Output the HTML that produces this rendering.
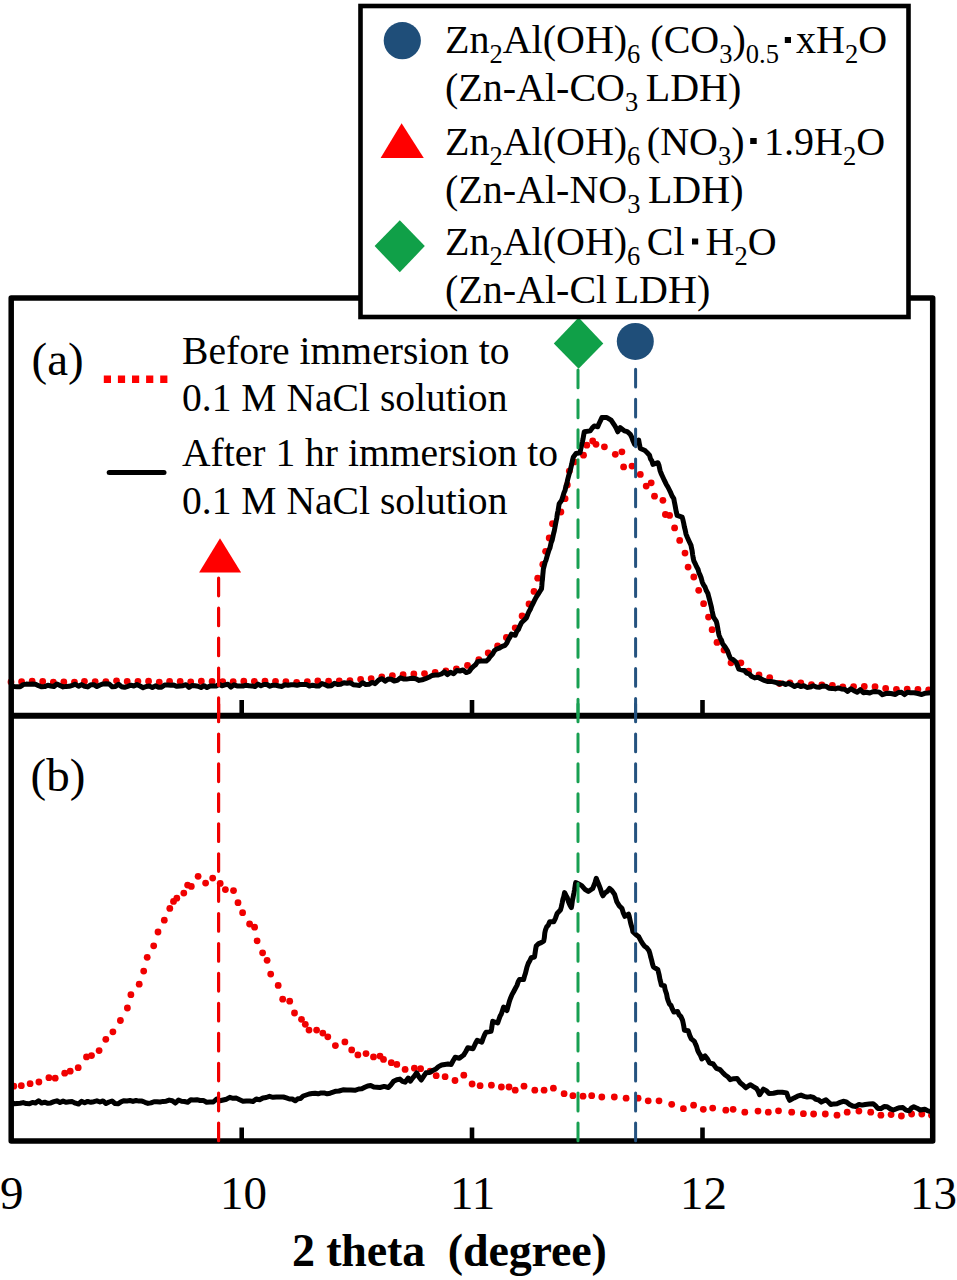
<!DOCTYPE html>
<html><head><meta charset="utf-8">
<style>
html,body{margin:0;padding:0;background:#fff;}
body{width:957px;height:1280px;position:relative;overflow:hidden;font-family:"Liberation Serif",serif;color:#000;}
svg{position:absolute;left:0;top:0;}
.t{position:absolute;white-space:nowrap;font-size:40px;line-height:40px;}
.p{position:absolute;white-space:nowrap;font-size:39.6px;line-height:40px;}
.t sub{font-size:26.5px;vertical-align:0;position:relative;top:10px;line-height:0;}
.sq{display:inline-block;width:6px;height:6px;background:#000;vertical-align:0;position:relative;top:-8px;margin:0 6px 0 10px;}
.ax{position:absolute;font-size:47px;line-height:46px;white-space:nowrap;}
.xt{position:absolute;font-size:46px;line-height:46px;white-space:nowrap;font-weight:bold;letter-spacing:-0.15px;}
</style></head><body>
<svg width="957" height="1280" viewBox="0 0 957 1280">
<path d="M11.0,682.0 L14.1,681.7 L17.1,681.4 L20.2,682.2 L23.3,681.2 L26.3,682.0 L29.4,681.7 L32.5,681.2 L35.6,681.9 L38.6,681.1 L41.7,681.7 L44.8,681.1 L47.8,681.1 L50.9,681.7 L54.0,682.3 L57.0,681.1 L60.1,681.3 L63.2,681.9 L66.2,682.4 L69.3,681.8 L72.4,681.5 L75.4,682.4 L78.5,680.9 L81.6,682.2 L84.7,681.2 L87.7,681.0 L90.8,680.9 L93.9,681.2 L96.9,682.0 L100.0,681.5 L103.1,681.6 L106.2,681.7 L109.2,681.3 L112.3,681.6 L115.4,680.8 L118.5,680.8 L121.5,681.0 L124.6,681.8 L127.7,681.4 L130.8,681.2 L133.8,681.6 L136.9,681.4 L140.0,681.2 L143.1,682.0 L146.2,681.8 L149.2,681.1 L152.3,681.6 L155.4,681.5 L158.5,682.1 L161.5,681.9 L164.6,681.2 L167.7,682.3 L170.8,680.9 L173.8,681.4 L176.9,681.9 L180.0,681.5 L183.0,681.5 L186.0,680.8 L189.0,681.8 L192.0,681.9 L195.0,681.6 L198.0,682.1 L201.0,681.2 L204.0,681.8 L207.0,681.7 L210.0,681.6 L213.0,681.4 L216.0,682.0 L219.0,682.2 L222.0,681.5 L225.0,681.8 L228.0,680.8 L231.0,681.8 L234.0,681.7 L237.0,682.3 L240.0,681.5 L243.0,681.2 L246.0,681.3 L249.0,681.8 L252.0,680.8 L255.0,681.5 L258.0,681.0 L261.0,681.0 L264.0,680.9 L267.0,682.0 L270.0,681.0 L273.0,681.2 L276.0,681.4 L279.0,682.2 L282.0,681.0 L285.0,681.6 L288.0,681.7 L291.0,682.3 L294.0,682.2 L297.0,682.3 L300.0,681.7 L303.1,681.5 L306.2,681.4 L309.2,682.2 L312.3,682.2 L315.4,680.9 L318.5,680.9 L321.5,680.9 L324.6,680.8 L327.7,681.2 L330.8,681.3 L333.8,680.7 L336.9,680.3 L340.0,681.0 L343.0,680.5 L346.0,680.6 L349.0,680.9 L352.0,680.2 L355.0,679.6 L358.0,679.5 L361.0,679.3 L364.0,678.1 L367.0,678.5 L370.1,678.7 L373.3,678.5 L376.4,678.1 L379.6,677.2 L382.7,676.9 L385.9,676.2 L389.0,676.5 L392.3,675.7 L395.7,675.4 L399.0,675.3 L402.1,674.6 L405.3,674.7 L408.4,674.1 L411.6,673.9 L414.7,674.0 L417.9,673.7 L421.0,674.2 L424.0,673.5 L427.0,673.8 L430.0,673.3 L433.0,672.9 L436.2,672.2 L439.5,671.8 L442.8,671.4 L446.0,671.0 L449.7,670.5 L453.3,669.8 L457.0,668.6" fill="none" stroke="#f00000" stroke-width="6.8" stroke-linecap="round" stroke-dasharray="0 10.8"/>
<path d="M790.0,682.8 L793.8,682.8 L797.6,682.9 L800.9,683.0 L804.2,683.4 L807.4,684.0 L810.7,684.6 L813.9,685.2 L817.0,684.2 L820.2,684.1 L823.3,685.7 L826.5,685.1 L829.6,685.1 L832.9,685.4 L836.2,684.8 L839.5,685.9 L842.8,686.8 L846.0,686.9 L849.3,686.8 L852.6,686.4 L855.9,687.0 L859.7,686.4 L863.4,686.6 L867.2,686.1 L871.0,686.6 L874.7,686.6 L878.5,687.0 L881.7,687.8 L885.0,688.4 L888.2,688.5 L891.4,688.8 L894.6,689.2 L897.9,689.4 L901.1,689.3 L904.1,689.4 L907.2,689.2 L910.2,688.7 L913.3,688.8 L916.4,689.3 L919.4,689.3 L922.5,690.0 L925.5,689.8 L928.8,689.9 L932.0,690.0" fill="none" stroke="#f00000" stroke-width="6.8" stroke-linecap="round" stroke-dasharray="0 10.8"/>
<g fill="#f00000"><circle cx="467.5" cy="665.4" r="3.4"/><circle cx="478.8" cy="659.7" r="3.4"/><circle cx="488.2" cy="653.0" r="3.4"/><circle cx="497.6" cy="646.0" r="3.4"/><circle cx="506.4" cy="637.5" r="3.4"/><circle cx="515.2" cy="627.8" r="3.4"/><circle cx="522.1" cy="616.0" r="3.4"/><circle cx="529.0" cy="604.0" r="3.4"/><circle cx="534.0" cy="591.4" r="3.4"/><circle cx="537.7" cy="578.2" r="3.4"/><circle cx="542.8" cy="564.5" r="3.4"/><circle cx="545.6" cy="551.3" r="3.4"/><circle cx="549.2" cy="538.0" r="3.4"/><circle cx="552.5" cy="523.7" r="3.4"/><circle cx="560.9" cy="512.0" r="3.4"/><circle cx="565.1" cy="498.7" r="3.4"/><circle cx="567.3" cy="485.0" r="3.4"/><circle cx="569.3" cy="471.1" r="3.4"/><circle cx="574.3" cy="461.9" r="3.4"/><circle cx="583.5" cy="455.2" r="3.4"/><circle cx="586.8" cy="445.2" r="3.4"/><circle cx="592.7" cy="441.0" r="3.4"/><circle cx="596.0" cy="444.3" r="3.4"/><circle cx="604.4" cy="446.8" r="3.4"/><circle cx="615.3" cy="454.3" r="3.4"/><circle cx="621.9" cy="451.8" r="3.4"/><circle cx="623.6" cy="466.9" r="3.4"/><circle cx="632.0" cy="466.1" r="3.4"/><circle cx="640.3" cy="474.4" r="3.4"/><circle cx="646.2" cy="486.1" r="3.4"/><circle cx="651.2" cy="482.8" r="3.4"/><circle cx="654.5" cy="496.2" r="3.4"/><circle cx="662.9" cy="500.3" r="3.4"/><circle cx="665.4" cy="514.5" r="3.4"/><circle cx="669.6" cy="515.4" r="3.4"/><circle cx="674.6" cy="527.9" r="3.4"/><circle cx="679.7" cy="540.4" r="3.4"/><circle cx="685.0" cy="553.1" r="3.4"/><circle cx="688.1" cy="567.1" r="3.4"/><circle cx="693.8" cy="577.0" r="3.4"/><circle cx="698.7" cy="590.3" r="3.4"/><circle cx="703.6" cy="603.7" r="3.4"/><circle cx="708.5" cy="617.1" r="3.4"/><circle cx="712.1" cy="629.7" r="3.4"/><circle cx="717.0" cy="642.4" r="3.4"/><circle cx="724.0" cy="650.1" r="3.4"/><circle cx="731.0" cy="662.8" r="3.4"/><circle cx="740.9" cy="662.8" r="3.4"/><circle cx="748.6" cy="671.2" r="3.4"/><circle cx="759.0" cy="675.0" r="3.4"/><circle cx="769.7" cy="677.6" r="3.4"/><circle cx="779.6" cy="683.5" r="3.4"/></g>
<path d="M11.0,685.0 L14.1,686.6 L17.1,686.8 L20.2,686.7 L23.2,684.6 L26.3,684.1 L29.4,684.2 L32.4,684.1 L35.5,684.2 L38.6,685.7 L41.6,686.8 L44.7,686.6 L47.8,685.3 L50.8,686.0 L53.9,686.5 L56.9,684.0 L60.0,685.5 L63.1,686.9 L66.2,686.4 L69.2,686.3 L72.3,685.3 L75.4,684.2 L78.5,686.3 L81.5,684.6 L84.6,686.3 L87.7,686.9 L90.8,684.7 L93.8,684.7 L96.9,686.6 L100.0,685.0 L103.1,683.9 L106.2,683.8 L109.2,684.0 L112.3,686.8 L115.4,686.5 L118.5,684.2 L121.5,686.7 L124.6,687.3 L127.7,686.3 L130.8,685.2 L133.8,686.0 L136.9,684.6 L140.0,686.0 L143.1,687.7 L146.2,686.5 L149.2,686.1 L152.3,687.6 L155.4,685.8 L158.5,687.3 L161.5,687.2 L164.6,685.0 L167.7,685.1 L170.8,685.3 L173.8,685.1 L176.9,686.3 L180.0,686.0 L183.0,685.7 L186.0,684.7 L189.0,687.5 L192.0,685.5 L195.0,685.8 L198.0,686.3 L201.0,687.5 L204.0,685.7 L207.0,687.5 L210.0,686.0 L213.0,686.1 L216.0,686.1 L219.0,684.3 L222.0,685.8 L225.0,684.9 L228.0,684.2 L231.0,687.1 L234.0,684.8 L237.0,685.9 L240.0,686.0 L243.0,686.1 L246.0,685.2 L249.0,685.8 L252.0,685.9 L255.0,686.6 L258.0,684.1 L261.0,685.7 L264.0,684.5 L267.0,684.5 L270.0,686.2 L273.0,685.2 L276.0,685.3 L279.0,686.0 L282.0,686.4 L285.0,684.7 L288.0,685.2 L291.0,684.7 L294.0,684.7 L297.0,685.3 L300.0,684.5 L303.1,684.6 L306.3,684.4 L309.4,686.1 L312.5,685.2 L315.7,685.9 L318.8,686.1 L321.9,683.6 L325.1,684.7 L328.2,686.1 L331.3,685.7 L334.5,683.2 L337.6,684.5 L340.7,684.2 L343.9,682.8 L347.0,683.3 L350.1,682.7 L353.3,684.7 L356.4,685.1 L359.5,685.4 L362.7,682.7 L365.8,684.6 L368.9,684.3 L372.1,682.4 L375.2,683.6 L379.0,679.8 L382.1,678.7 L385.1,681.2 L388.1,679.1 L391.2,679.3 L394.2,681.0 L397.3,680.3 L400.3,677.8 L403.4,678.9 L406.5,679.1 L409.7,678.6 L412.8,678.3 L415.9,678.8 L419.1,680.4 L422.2,679.8 L425.5,678.7 L428.8,677.3 L432.1,675.4 L435.4,675.1 L438.4,675.0 L441.4,674.0 L444.5,671.9 L447.5,674.6 L450.5,672.3 L453.6,673.8 L456.8,670.6 L459.9,671.0 L463.0,670.0 L466.2,672.6 L469.3,671.4 L471.4,668.3 L473.5,666.4 L475.5,664.8 L477.6,661.6 L482.0,660.9 L486.3,661.0 L488.3,659.4 L490.3,656.4 L492.4,654.2 L494.4,650.7 L496.4,649.1 L499.3,648.2 L502.2,646.4 L505.1,645.3 L506.7,643.3 L508.2,639.9 L509.8,637.4 L511.4,634.0 L515.2,635.3 L516.8,631.4 L518.3,629.7 L519.9,625.8 L521.4,622.8 L524.0,620.3 L526.5,617.7 L527.7,614.5 L529.0,611.6 L530.2,609.5 L531.5,606.3 L532.7,604.0 L534.5,600.4 L536.2,597.2 L538.0,594.4 L539.7,591.6 L541.5,588.9 L541.8,586.0 L542.1,581.8 L542.5,578.9 L542.8,574.9 L543.1,571.9 L543.4,568.8 L544.3,565.4 L545.2,561.9 L546.0,560.2 L546.9,556.9 L547.8,553.8 L548.9,550.3 L550.0,547.7 L551.1,542.7 L552.2,540.0 L552.9,536.7 L553.6,533.5 L554.3,530.9 L555.0,527.1 L555.6,523.8 L556.2,520.8 L556.8,517.9 L557.4,513.4 L558.0,511.0 L558.6,507.4 L559.2,503.7 L561.7,500.3 L562.8,496.7 L564.0,492.8 L565.1,490.3 L565.9,486.2 L566.8,484.1 L567.6,479.8 L568.5,476.3 L569.3,473.6 L570.1,470.9 L570.9,467.6 L571.8,463.9 L572.6,459.8 L573.4,456.9 L576.0,453.5 L580.1,452.7 L580.7,449.1 L581.3,446.6 L581.9,443.3 L582.5,441.6 L583.1,438.6 L583.7,434.9 L584.3,431.8 L590.2,430.9 L592.2,428.1 L594.3,425.9 L597.7,426.8 L599.1,423.5 L600.5,420.6 L601.9,417.6 L606.9,417.6 L611.1,420.1 L614.4,425.1 L616.1,428.0 L617.8,431.8 L620.3,427.6 L624.4,430.9 L627.3,431.7 L630.3,434.3 L631.7,437.2 L633.1,441.1 L634.5,444.3 L638.7,440.1 L639.5,444.6 L640.3,448.5 L644.5,450.2 L647.0,452.5 L649.5,455.2 L650.6,459.1 L651.8,460.7 L652.9,464.4 L657.9,462.7 L659.0,465.5 L660.1,470.6 L661.2,473.6 L662.9,477.2 L664.5,480.7 L666.2,484.2 L667.9,487.0 L669.4,490.0 L670.8,492.9 L672.3,496.4 L673.8,498.7 L674.5,502.6 L675.1,505.5 L675.8,509.4 L676.4,512.4 L677.1,515.4 L682.1,517.1 L682.9,519.7 L683.7,523.2 L684.4,527.0 L685.2,530.0 L686.0,534.1 L687.2,537.0 L688.5,539.9 L689.8,542.7 L691.0,545.3 L691.6,548.4 L692.1,550.6 L692.7,555.1 L693.2,558.1 L693.8,560.8 L695.2,563.7 L696.6,566.7 L698.0,569.2 L699.0,572.8 L700.1,575.1 L701.2,578.0 L702.2,581.9 L703.6,585.1 L705.0,587.0 L706.4,590.8 L707.8,593.2 L708.7,596.7 L709.6,600.0 L710.5,603.7 L711.4,607.2 L712.1,611.0 L712.8,614.0 L713.5,617.1 L716.3,621.3 L717.0,624.2 L717.7,627.9 L718.4,632.3 L719.1,635.4 L720.3,638.3 L721.4,640.1 L722.6,643.8 L725.0,646.9 L727.5,650.8 L728.9,654.7 L730.3,657.9 L733.1,659.6 L736.0,662.1 L737.4,665.5 L738.8,669.1 L744.4,670.5 L746.7,673.1 L749.1,673.8 L751.4,676.2 L754.7,677.9 L758.0,677.2 L761.3,679.0 L764.3,680.4 L767.4,681.5 L770.5,681.4 L773.5,681.9 L776.5,682.6 L779.6,683.9 L782.6,683.1 L785.6,684.6 L788.6,683.2 L791.6,684.8 L794.6,686.5 L797.6,685.1 L800.7,686.6 L803.9,685.8 L807.0,687.4 L810.1,687.1 L813.3,685.7 L816.4,687.0 L819.5,687.3 L822.7,685.9 L825.8,686.2 L828.9,688.2 L832.1,688.4 L835.2,688.9 L838.3,687.9 L841.5,689.0 L844.6,689.2 L847.7,691.4 L850.9,688.7 L854.0,690.8 L857.1,692.2 L860.3,689.7 L863.4,692.8 L866.5,692.2 L869.7,693.0 L872.8,691.7 L876.0,691.6 L879.3,692.1 L882.5,694.7 L885.7,693.6 L888.9,693.2 L892.2,693.8 L895.4,694.5 L898.4,692.5 L901.4,692.3 L904.5,694.6 L907.5,692.3 L910.5,692.7 L914.2,692.8 L918.0,693.5 L921.7,694.5 L924.8,693.3 L927.9,693.1 L931.0,692.7" fill="none" stroke="#000" stroke-width="5" stroke-linejoin="round"/>
<g fill="#f00000"><circle cx="13.8" cy="1086.2" r="3.4"/><circle cx="21.3" cy="1085.7" r="3.4"/><circle cx="30.1" cy="1083.7" r="3.4"/><circle cx="38.9" cy="1082.0" r="3.4"/><circle cx="48.9" cy="1077.7" r="3.4"/><circle cx="55.2" cy="1078.2" r="3.4"/><circle cx="64.7" cy="1073.2" r="3.4"/><circle cx="70.2" cy="1071.2" r="3.4"/><circle cx="78.2" cy="1067.7" r="3.4"/><circle cx="86.5" cy="1056.9" r="3.4"/><circle cx="91.5" cy="1055.6" r="3.4"/><circle cx="99.1" cy="1050.6" r="3.4"/><circle cx="105.8" cy="1039.3" r="3.4"/><circle cx="112.9" cy="1031.8" r="3.4"/><circle cx="120.4" cy="1020.5" r="3.4"/><circle cx="127.4" cy="1008.0" r="3.4"/><circle cx="130.9" cy="994.7" r="3.4"/><circle cx="139.2" cy="984.2" r="3.4"/><circle cx="143.7" cy="971.1" r="3.4"/><circle cx="147.2" cy="957.3" r="3.4"/><circle cx="153.7" cy="945.8" r="3.4"/><circle cx="158.0" cy="932.0" r="3.4"/><circle cx="164.3" cy="920.2" r="3.4"/><circle cx="169.8" cy="908.4" r="3.4"/><circle cx="173.5" cy="901.4" r="3.4"/><circle cx="176.8" cy="898.2" r="3.4"/><circle cx="183.8" cy="893.1" r="3.4"/><circle cx="187.6" cy="885.1" r="3.4"/><circle cx="191.3" cy="886.4" r="3.4"/><circle cx="198.1" cy="876.3" r="3.4"/><circle cx="205.6" cy="883.1" r="3.4"/><circle cx="212.7" cy="878.1" r="3.4"/><circle cx="220.2" cy="883.4" r="3.4"/><circle cx="225.4" cy="889.6" r="3.4"/><circle cx="233.5" cy="890.6" r="3.4"/><circle cx="238.0" cy="902.7" r="3.4"/><circle cx="242.6" cy="912.7" r="3.4"/><circle cx="249.6" cy="924.0" r="3.4"/><circle cx="254.6" cy="927.2" r="3.4"/><circle cx="257.1" cy="940.8" r="3.4"/><circle cx="262.6" cy="952.8" r="3.4"/><circle cx="267.1" cy="960.3" r="3.4"/><circle cx="270.7" cy="974.1" r="3.4"/><circle cx="278.2" cy="985.4" r="3.4"/><circle cx="282.7" cy="999.2" r="3.4"/><circle cx="289.7" cy="1001.2" r="3.4"/><circle cx="294.5" cy="1013.0" r="3.4"/><circle cx="301.5" cy="1019.3" r="3.4"/><circle cx="305.3" cy="1024.3" r="3.4"/><circle cx="309.0" cy="1030.1" r="3.4"/><circle cx="316.6" cy="1030.1" r="3.4"/><circle cx="322.8" cy="1033.1" r="3.4"/><circle cx="327.8" cy="1036.8" r="3.4"/><circle cx="335.4" cy="1045.6" r="3.4"/><circle cx="344.9" cy="1041.9" r="3.4"/><circle cx="351.7" cy="1049.9" r="3.4"/><circle cx="357.9" cy="1054.9" r="3.4"/><circle cx="366.0" cy="1053.6" r="3.4"/><circle cx="373.5" cy="1056.9" r="3.4"/><circle cx="380.0" cy="1056.1" r="3.4"/><circle cx="383.5" cy="1059.4" r="3.4"/><circle cx="391.3" cy="1062.7" r="3.4"/><circle cx="396.8" cy="1064.4" r="3.4"/><circle cx="405.1" cy="1069.4" r="3.4"/><circle cx="414.4" cy="1068.2" r="3.4"/><circle cx="420.6" cy="1068.7" r="3.4"/><circle cx="430.2" cy="1071.2" r="3.4"/><circle cx="436.2" cy="1075.7" r="3.4"/><circle cx="445.1" cy="1076.7" r="3.4"/><circle cx="455.0" cy="1080.5" r="3.4"/><circle cx="463.8" cy="1075.2" r="3.4"/><circle cx="472.1" cy="1084.0" r="3.4"/><circle cx="480.1" cy="1085.7" r="3.4"/><circle cx="491.4" cy="1085.2" r="3.4"/><circle cx="501.4" cy="1087.0" r="3.4"/><circle cx="509.0" cy="1087.0" r="3.4"/><circle cx="515.2" cy="1090.2" r="3.4"/><circle cx="524.0" cy="1086.2" r="3.4"/><circle cx="534.8" cy="1090.2" r="3.4"/><circle cx="544.1" cy="1090.2" r="3.4"/><circle cx="553.4" cy="1088.2" r="3.4"/><circle cx="564.1" cy="1093.7" r="3.4"/><circle cx="572.9" cy="1095.7" r="3.4"/><circle cx="583.0" cy="1096.2" r="3.4"/><circle cx="591.7" cy="1095.7" r="3.4"/><circle cx="601.8" cy="1097.0" r="3.4"/><circle cx="614.3" cy="1097.0" r="3.4"/><circle cx="626.1" cy="1098.2" r="3.4"/><circle cx="638.1" cy="1098.2" r="3.4"/><circle cx="648.2" cy="1100.8" r="3.4"/><circle cx="659.0" cy="1100.8" r="3.4"/><circle cx="671.7" cy="1104.3" r="3.4"/><circle cx="683.4" cy="1108.7" r="3.4"/><circle cx="693.6" cy="1105.2" r="3.4"/><circle cx="703.3" cy="1109.3" r="3.4"/><circle cx="712.7" cy="1108.1" r="3.4"/><circle cx="725.8" cy="1110.2" r="3.4"/><circle cx="733.1" cy="1109.3" r="3.4"/><circle cx="744.8" cy="1112.2" r="3.4"/><circle cx="758.0" cy="1111.1" r="3.4"/><circle cx="768.3" cy="1112.2" r="3.4"/><circle cx="778.5" cy="1110.8" r="3.4"/><circle cx="791.7" cy="1112.2" r="3.4"/><circle cx="803.4" cy="1113.7" r="3.4"/><circle cx="813.6" cy="1114.0" r="3.4"/><circle cx="825.3" cy="1114.0" r="3.4"/><circle cx="837.0" cy="1115.2" r="3.4"/><circle cx="847.2" cy="1112.2" r="3.4"/><circle cx="858.9" cy="1111.1" r="3.4"/><circle cx="870.7" cy="1112.2" r="3.4"/><circle cx="880.9" cy="1115.2" r="3.4"/><circle cx="891.1" cy="1114.6" r="3.4"/><circle cx="901.4" cy="1116.0" r="3.4"/><circle cx="911.6" cy="1114.0" r="3.4"/><circle cx="921.8" cy="1114.0" r="3.4"/><circle cx="931.5" cy="1115.2" r="3.4"/></g>
<path d="M11.0,1102.0 L14.1,1103.7 L17.1,1103.4 L20.2,1103.2 L23.2,1102.6 L26.3,1103.6 L29.4,1103.8 L32.4,1102.4 L35.5,1103.0 L38.6,1100.7 L41.6,1103.1 L44.7,1102.2 L47.8,1103.3 L50.8,1102.9 L53.9,1101.7 L56.9,1100.8 L60.0,1102.5 L63.1,1101.1 L66.2,1102.3 L69.2,1101.8 L72.3,1101.6 L75.4,1103.2 L78.5,1104.0 L81.5,1101.4 L84.6,1102.8 L87.7,1101.4 L90.8,1102.3 L93.8,1101.7 L96.9,1100.8 L100.0,1102.0 L103.0,1100.9 L106.0,1103.5 L109.0,1102.0 L112.0,1101.0 L115.0,1103.5 L118.0,1103.8 L121.0,1101.8 L124.0,1100.7 L127.0,1100.9 L130.0,1100.5 L133.0,1101.4 L136.0,1100.5 L139.0,1101.1 L142.0,1101.1 L145.0,1102.3 L148.0,1103.4 L151.0,1102.9 L154.0,1101.7 L157.0,1101.7 L160.0,1102.0 L163.1,1101.4 L166.2,1101.2 L169.2,1100.1 L172.3,1100.7 L175.4,1103.1 L178.5,1100.0 L181.5,1101.2 L184.6,1101.5 L187.7,1102.3 L190.8,1099.8 L193.8,1099.9 L196.9,1099.7 L200.0,1100.5 L203.3,1100.4 L206.6,1102.2 L209.9,1101.9 L213.3,1102.0 L216.6,1099.0 L219.9,1100.8 L223.2,1100.0 L226.5,1099.2 L229.8,1097.3 L233.1,1098.3 L236.4,1098.1 L239.7,1099.8 L243.0,1101.3 L246.3,1101.0 L249.7,1101.1 L253.0,1101.5 L256.3,1098.9 L259.6,1099.8 L262.9,1098.0 L266.2,1097.5 L269.5,1096.3 L273.0,1097.3 L276.4,1097.0 L279.9,1097.1 L283.4,1097.0 L286.4,1097.9 L289.4,1099.0 L292.3,1099.0 L295.3,1100.8 L297.9,1098.7 L300.6,1098.4 L303.2,1096.0 L306.2,1095.0 L309.1,1094.0 L312.1,1093.5 L315.1,1093.3 L318.1,1093.8 L321.1,1092.9 L324.1,1092.9 L327.1,1093.8 L330.1,1093.2 L333.1,1092.2 L336.0,1091.2 L339.0,1091.0 L343.0,1089.8 L346.9,1090.0 L350.9,1090.0 L354.9,1090.3 L358.8,1089.0 L361.8,1088.8 L364.8,1087.3 L367.7,1086.0 L370.7,1085.6 L373.8,1087.1 L376.9,1087.2 L380.0,1087.5 L384.2,1086.4 L388.4,1087.5 L391.0,1084.7 L393.6,1081.2 L396.8,1079.7 L399.9,1079.1 L402.5,1081.4 L405.1,1082.2 L408.2,1078.1 L410.3,1081.2 L412.4,1078.3 L414.5,1075.9 L416.6,1072.8 L419.0,1076.9 L421.3,1080.0 L423.6,1076.4 L426.0,1072.8 L429.1,1072.6 L432.2,1070.8 L435.4,1069.3 L438.5,1066.6 L441.6,1065.0 L444.8,1064.5 L448.0,1064.1 L451.1,1064.5 L453.1,1060.8 L455.2,1057.2 L459.4,1058.2 L463.6,1055.1 L465.7,1051.7 L467.8,1047.8 L473.0,1048.8 L474.4,1045.8 L475.8,1042.7 L477.2,1040.4 L481.8,1042.2 L483.2,1038.1 L484.6,1034.7 L486.0,1032.2 L491.0,1031.4 L491.6,1028.7 L492.1,1025.1 L492.7,1021.3 L497.7,1023.0 L498.9,1019.5 L500.1,1016.1 L501.2,1014.2 L502.4,1010.7 L503.6,1007.1 L506.9,1010.5 L507.8,1007.4 L508.6,1004.4 L509.4,1001.4 L510.3,998.8 L512.0,994.6 L513.6,991.7 L515.3,988.5 L517.0,985.4 L518.2,981.8 L519.5,979.5 L523.6,979.5 L524.5,976.1 L525.3,973.8 L526.1,970.7 L527.0,967.0 L528.4,963.1 L529.8,960.8 L531.2,957.8 L534.5,957.0 L535.1,952.8 L535.6,949.5 L536.2,946.1 L538.7,943.6 L541.2,942.6 L543.7,941.1 L544.3,937.9 L544.8,933.0 L545.4,930.2 L546.8,926.6 L548.2,925.4 L549.6,921.8 L553.7,921.8 L555.4,918.4 L557.1,913.5 L560.4,910.1 L561.2,907.4 L562.1,903.3 L562.9,899.2 L563.8,896.5 L564.6,892.6 L565.9,895.2 L567.3,897.7 L568.6,902.1 L570.0,905.3 L571.3,907.6 L571.8,905.3 L572.4,900.5 L573.0,897.7 L573.5,895.1 L574.0,892.8 L574.6,889.7 L575.2,885.5 L575.7,882.6 L578.7,884.0 L581.7,885.6 L585.0,889.3 L588.3,891.5 L592.7,888.5 L593.9,885.5 L595.1,882.3 L596.3,878.3 L597.4,881.4 L598.5,883.8 L599.6,886.7 L600.7,889.7 L601.8,893.4 L602.9,895.8 L605.1,892.8 L607.3,891.4 L609.5,888.5 L612.0,890.7 L614.6,894.4 L615.7,898.1 L616.8,901.7 L619.3,905.9 L621.9,908.3 L623.4,913.2 L624.9,916.3 L628.5,914.1 L629.2,916.3 L630.0,920.0 L630.7,923.3 L631.4,925.7 L632.2,928.3 L632.9,931.7 L635.8,934.5 L638.8,936.8 L640.7,940.4 L642.7,943.8 L644.6,946.3 L646.8,947.8 L649.0,950.7 L649.9,953.5 L650.8,957.3 L651.6,960.1 L652.5,964.0 L653.4,966.8 L657.8,969.7 L658.5,972.3 L659.2,975.2 L660.0,979.6 L660.7,982.2 L661.4,985.1 L664.4,985.8 L665.1,989.6 L665.8,991.7 L666.6,994.1 L667.3,998.0 L668.0,1000.4 L669.5,1004.2 L671.0,1005.5 L672.4,1009.1 L673.9,1012.1 L677.5,1011.4 L679.2,1015.0 L680.8,1016.4 L682.5,1020.1 L683.1,1022.8 L683.8,1026.3 L684.4,1030.2 L688.2,1030.8 L689.8,1035.6 L691.3,1038.9 L694.4,1041.4 L695.5,1044.1 L696.6,1046.6 L697.7,1050.4 L698.8,1052.7 L700.3,1055.1 L701.9,1059.0 L705.1,1055.9 L707.3,1058.8 L709.5,1062.8 L713.2,1064.0 L716.4,1068.4 L720.1,1069.7 L722.6,1072.4 L725.2,1075.0 L727.7,1076.7 L730.2,1079.7 L733.7,1078.7 L737.1,1078.4 L740.2,1082.8 L743.0,1085.0 L745.8,1087.8 L750.2,1084.7 L753.4,1086.7 L756.5,1088.5 L758.0,1090.9 L759.6,1094.7 L761.5,1092.0 L763.4,1089.1 L766.2,1090.6 L769.0,1093.5 L773.4,1093.2 L777.8,1092.2 L782.2,1092.2 L786.6,1092.9 L788.2,1097.4 L789.7,1100.3 L794.1,1097.9 L797.5,1096.2 L801.0,1095.1 L804.1,1096.3 L807.2,1097.1 L810.4,1096.6 L813.5,1097.4 L816.1,1099.4 L818.7,1100.0 L821.3,1102.1 L826.0,1099.8 L828.4,1102.0 L830.8,1104.5 L833.9,1103.9 L837.0,1103.7 L840.1,1102.4 L843.3,1101.3 L846.4,1102.0 L849.6,1104.5 L852.7,1106.0 L855.8,1106.4 L859.0,1104.5 L862.1,1105.1 L865.2,1104.5 L869.2,1104.1 L873.1,1103.7 L875.5,1105.7 L877.8,1108.4 L880.9,1108.6 L884.1,1106.6 L887.2,1106.8 L890.3,1108.9 L893.4,1110.0 L896.6,1108.7 L899.7,1107.7 L902.9,1107.6 L906.0,1110.1 L909.1,1110.8 L911.5,1108.0 L913.8,1106.8 L917.0,1108.2 L920.1,1110.0 L924.8,1109.2 L927.9,1110.9 L931.0,1111.5" fill="none" stroke="#000" stroke-width="5" stroke-linejoin="round"/>
<rect x="11.2" y="298" width="921.5" height="843" fill="none" stroke="#000" stroke-width="5.5" stroke-linejoin="round"/>
<line x1="11" y1="715.8" x2="933" y2="715.8" stroke="#000" stroke-width="6"/>
<line x1="241.7" y1="700" x2="241.7" y2="716" stroke="#000" stroke-width="4.6"/>
<line x1="241.7" y1="1127.5" x2="241.7" y2="1141" stroke="#000" stroke-width="4.6"/>
<line x1="472.0" y1="700" x2="472.0" y2="716" stroke="#000" stroke-width="4.6"/>
<line x1="472.0" y1="1127.5" x2="472.0" y2="1141" stroke="#000" stroke-width="4.6"/>
<line x1="702.5" y1="700" x2="702.5" y2="716" stroke="#000" stroke-width="4.6"/>
<line x1="702.5" y1="1127.5" x2="702.5" y2="1141" stroke="#000" stroke-width="4.6"/>
<line x1="218.6" y1="578.20" x2="218.6" y2="715.90" stroke="#f00000" stroke-width="3.2" stroke-linecap="round" stroke-dasharray="17.60 12.33"/>
<line x1="218.6" y1="704.10" x2="218.6" y2="1142.40" stroke="#f00000" stroke-width="3.2" stroke-linecap="round" stroke-dasharray="17.60 12.33"/>
<line x1="578.0" y1="370.00" x2="578.0" y2="716.00" stroke="#18a052" stroke-width="3.0" stroke-linecap="round" stroke-dasharray="17.80 12.13"/>
<line x1="578.0" y1="704.00" x2="578.0" y2="1142.50" stroke="#18a052" stroke-width="3.0" stroke-linecap="round" stroke-dasharray="17.80 12.13"/>
<line x1="635.6" y1="369.20" x2="635.6" y2="716.00" stroke="#24527f" stroke-width="3.0" stroke-linecap="round" stroke-dasharray="17.80 12.13"/>
<line x1="635.6" y1="704.00" x2="635.6" y2="1142.50" stroke="#24527f" stroke-width="3.0" stroke-linecap="round" stroke-dasharray="17.80 12.13"/>
<polygon points="220,538.2 199.1,572.4 241.1,572.4" fill="#ff0000"/>
<polygon points="578.6,317.5 553.8,343.6 578.6,368.8 603.3,343.6" fill="#10a048"/>
<circle cx="635.3" cy="341.4" r="18.5" fill="#1f4e79"/>
<rect x="360.5" y="6" width="548" height="311" fill="#fff" stroke="#000" stroke-width="4.6"/>
<rect x="784.8" y="37" width="6.2" height="6"/>
<rect x="750.2" y="138" width="6.5" height="6"/>
<rect x="692" y="238.5" width="6.2" height="6"/>
<circle cx="402.3" cy="40.7" r="18.6" fill="#1f4e79"/>
<polygon points="401.6,123.3 380.6,158.1 423.8,158.1" fill="#ff0000"/>
<polygon points="399.8,220.2 374.6,246.1 399.8,272.3 424.8,246.1" fill="#10a048"/>
<line x1="103.8" y1="379.2" x2="168" y2="379.2" stroke="#ff0000" stroke-width="7.5" stroke-dasharray="7.2 6.9"/>
<line x1="109.2" y1="472.6" x2="164" y2="472.6" stroke="#000" stroke-width="5" stroke-linecap="round"/>
</svg>
<div class="t" id="l1" style="left:445px;top:20px">Zn<sub>2</sub>Al(OH)<sub>6</sub> (CO<sub>3</sub>)<sub>0.5</sub></div><div class="t" style="left:796px;top:20px">xH<sub>2</sub>O</div>
<div class="t" id="l2" style="left:445px;top:68px;word-spacing:-2.5px">(Zn-Al-CO<sub>3</sub> LDH)</div>
<div class="t" id="l3" style="left:445px;top:122px;word-spacing:-3.5px">Zn<sub>2</sub>Al(OH)<sub>6</sub> (NO<sub>3</sub>)</div><div class="t" style="left:764px;top:122px">1.9H<sub>2</sub>O</div>
<div class="t" id="l4" style="left:445px;top:170px;word-spacing:-2.5px">(Zn-Al-NO<sub>3</sub> LDH)</div>
<div class="t" id="l5" style="left:445px;top:222px;word-spacing:-3.5px">Zn<sub>2</sub>Al(OH)<sub>6</sub> Cl</div><div class="t" style="left:705.5px;top:222px">H<sub>2</sub>O</div>
<div class="t" id="l6" style="left:445px;top:270px;word-spacing:-2.5px">(Zn-Al-Cl LDH)</div>
<div class="p" id="p1" style="left:182px;top:331px">Before immersion to</div>
<div class="p" id="p2" style="left:182px;top:378px">0.1 M NaCl solution</div>
<div class="p" id="p3" style="left:182px;top:433px">After 1 hr immersion to</div>
<div class="p" id="p4" style="left:182px;top:481px">0.1 M NaCl solution</div>
<div class="ax" id="la" style="left:31.5px;top:335.5px">(a)</div>
<div class="ax" id="lb" style="left:30.5px;top:752px">(b)</div>
<div class="ax" id="x9" style="left:0px;top:1170px">9</div>
<div class="ax" id="x10" style="left:220px;top:1170px">10</div>
<div class="ax" id="x11" style="left:450px;top:1170px">11</div>
<div class="ax" id="x12" style="left:680px;top:1170px">12</div>
<div class="ax" id="x13" style="left:910px;top:1170px">13</div>
<div class="xt" id="xt" style="left:292px;top:1228px">2 theta&nbsp; (degree)</div>
</body></html>
